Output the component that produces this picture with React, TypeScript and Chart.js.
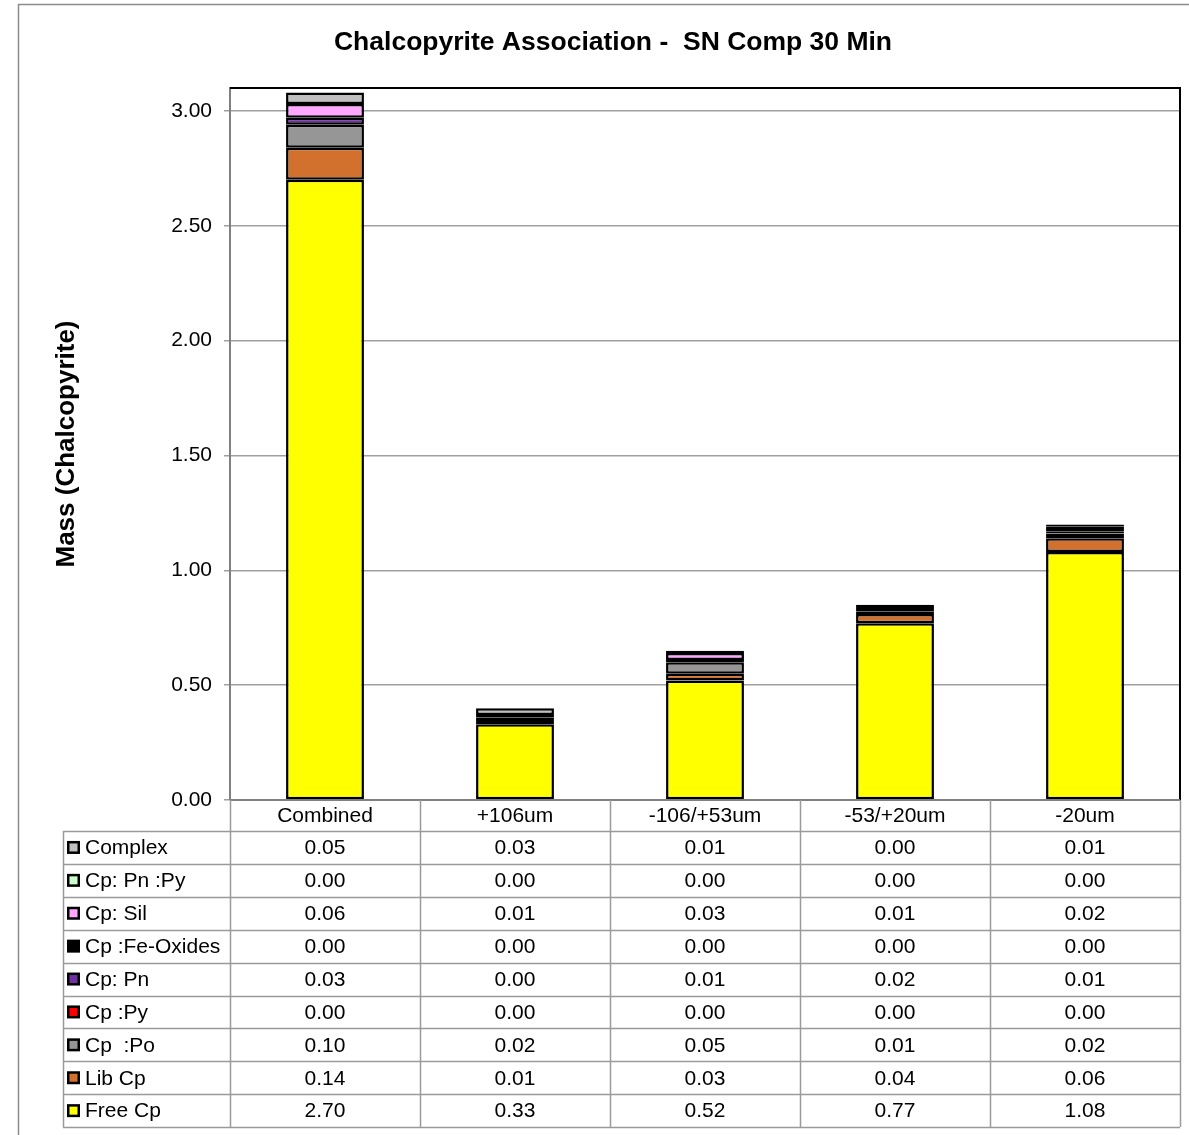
import React, { useEffect, useRef } from "react";
import { Chart, registerables } from "chart.js";

Chart.register(...registerables);

const categories = ["Combined", "+106um", "-106/+53um", "-53/+20um", "-20um"];

// stack order bottom -> top
const freeCp = [2.7, 0.33, 0.52, 0.77, 1.08];
const libCp = [0.14, 0.01, 0.03, 0.04, 0.06];
const cpPo = [0.1, 0.02, 0.05, 0.01, 0.02];
const cpPy = [0.0, 0.0, 0.0, 0.0, 0.0];
const cpPn = [0.03, 0.0, 0.01, 0.02, 0.01];
const cpFeOx = [0.0, 0.0, 0.0, 0.0, 0.0];
const cpSil = [0.06, 0.01, 0.03, 0.01, 0.02];
const cpPnPy = [0.0, 0.0, 0.0, 0.0, 0.0];
const complexCp = [0.05, 0.03, 0.01, 0.0, 0.01];

const seriesNames = ["Free Cp", "Lib Cp", "Cp  :Po", "Cp :Py", "Cp: Pn", "Cp :Fe-Oxides", "Cp: Sil", "Cp: Pn :Py", "Complex"];
const seriesValues = [freeCp, libCp, cpPo, cpPy, cpPn, cpFeOx, cpSil, cpPnPy, complexCp];
const seriesColors = ["#FFFF00", "#D2702D", "#969696", "#FF0000", "#7030A0", "#000000", "#FFA6FF", "#CCFFCC", "#C0C0C0"];

const yTicks = [0, 0.5, 1, 1.5, 2, 2.5, 3];
const yMax = 3.1;

const FONT = "'Liberation Sans', Arial, sans-serif";

const tablePlugin = {
  id: "dataTablePlugin",
  beforeDraw(chart: any) {
    const ctx = chart.ctx;
    ctx.save();
    ctx.fillStyle = "#ffffff";
    ctx.fillRect(0, 0, chart.width, chart.height);
    ctx.strokeStyle = "#8c8c8c";
    ctx.lineWidth = 1.5;
    ctx.strokeRect(18.5, 4.5, 1400, 1400);
    ctx.restore();
  },
  afterDraw(chart: any) {
    const ctx = chart.ctx;
    const area = chart.chartArea;
    const n = categories.length;
    const colW = (area.right - area.left) / n;
    const headerH = 31;
    const rowH = 32.9;
    const labelLeft = 63;
    const headerBottom = area.bottom + headerH;
    const rows = seriesNames.length;
    const tableBottom = headerBottom + rows * rowH;

    ctx.save();
    // plot border top/right
    ctx.strokeStyle = "#000000";
    ctx.lineWidth = 2;
    ctx.beginPath();
    ctx.moveTo(area.left, area.top);
    ctx.lineTo(area.right, area.top);
    ctx.lineTo(area.right, area.bottom);
    ctx.stroke();
    // bottom axis line
    ctx.strokeStyle = "#808080";
    ctx.lineWidth = 2;
    ctx.beginPath();
    ctx.moveTo(area.left, area.bottom);
    ctx.lineTo(area.right, area.bottom);
    ctx.stroke();

    // table grid
    ctx.strokeStyle = "#9a9a9a";
    ctx.lineWidth = 1.5;
    ctx.beginPath();
    for (let i = 0; i <= n; i++) {
      const x = Math.round(area.left + i * colW) + 0.5;
      ctx.moveTo(x, area.bottom);
      ctx.lineTo(x, tableBottom);
    }
    ctx.moveTo(labelLeft + 0.5, headerBottom);
    ctx.lineTo(labelLeft + 0.5, tableBottom);
    for (let r = 0; r <= rows; r++) {
      const y = Math.round(headerBottom + r * rowH) + 0.5;
      ctx.moveTo(labelLeft, y);
      ctx.lineTo(area.right, y);
    }
    ctx.stroke();

    ctx.fillStyle = "#000000";
    ctx.font = `21px ${FONT}`;
    ctx.textBaseline = "middle";
    ctx.textAlign = "center";
    for (let i = 0; i < n; i++) {
      ctx.fillText(categories[i], area.left + (i + 0.5) * colW, area.bottom + headerH / 2 + 1);
    }

    for (let r = 0; r < rows; r++) {
      const si = rows - 1 - r;
      const cy = headerBottom + (r + 0.5) * rowH;
      // swatch
      ctx.fillStyle = "#000000";
      ctx.fillRect(67, cy - 6.5, 13, 13);
      ctx.fillStyle = seriesColors[si];
      ctx.fillRect(69.5, cy - 4, 8, 8);
      ctx.fillStyle = "#000000";
      ctx.textAlign = "left";
      ctx.fillText(seriesNames[si], 85, cy + 1);
      ctx.textAlign = "center";
      for (let i = 0; i < n; i++) {
        ctx.fillText(seriesValues[si][i].toFixed(2), area.left + (i + 0.5) * colW, cy + 1);
      }
    }
    ctx.restore();
  },
};

export default function App() {
  const ref = useRef<HTMLCanvasElement>(null);
  useEffect(() => {
    document.body.style.margin = "0";
    const canvas = ref.current!;
    const chart = new Chart(canvas, {
      type: "bar",
      data: {
        labels: categories,
        datasets: seriesNames.map((name, i) => ({
          label: name,
          data: seriesValues[i],
          backgroundColor: seriesColors[i],
          borderColor: "#000000",
          borderWidth: 2.5,
          borderSkipped: false,
          barPercentage: 1,
          categoryPercentage: 0.41,
        })),
      },
      options: {
        animation: false,
        responsive: false,
        devicePixelRatio: 1,
        layout: { padding: { top: 3, left: 46, right: 9, bottom: 335 } },
        plugins: {
          legend: { display: false },
          tooltip: { enabled: false },
          title: {
            display: true,
            text: "Chalcopyrite Association -  SN Comp 30 Min",
            color: "#000000",
            font: { family: FONT, size: 26.5, weight: "bold" },
            padding: { top: 24, bottom: 29.2 },
          },
        },
        scales: {
          x: {
            display: false,
            stacked: true,
          },
          y: {
            stacked: true,
            min: 0,
            max: yMax,
            afterFit: (s: any) => {
              s.width = 184;
            },
            afterBuildTicks: (s: any) => {
              s.ticks = yTicks.map((v) => ({ value: v }));
            },
            ticks: {
              includeBounds: false,
              color: "#000000",
              font: { family: FONT, size: 21 },
              padding: 12,
              callback: (v: any) => Number(v).toFixed(2),
            },
            grid: {
              color: "#a0a0a0",
              lineWidth: 1.5,
              tickLength: 6,
              drawTicks: true,
            },
            border: { display: true, color: "#808080", width: 2 },
            title: {
              display: true,
              text: "Mass (Chalcopyrite)",
              color: "#000000",
              font: { family: FONT, size: 26, weight: "bold" },
              padding: { top: 5.4, bottom: 0 },
            },
          },
        },
      },
      plugins: [tablePlugin],
    } as any);
    return () => chart.destroy();
  }, []);
  return (
    <div style={{ width: 1189, height: 1135 }}>
      <canvas ref={ref} width={1189} height={1135} style={{ display: "block", width: 1189, height: 1135 }} />
    </div>
  );
}
